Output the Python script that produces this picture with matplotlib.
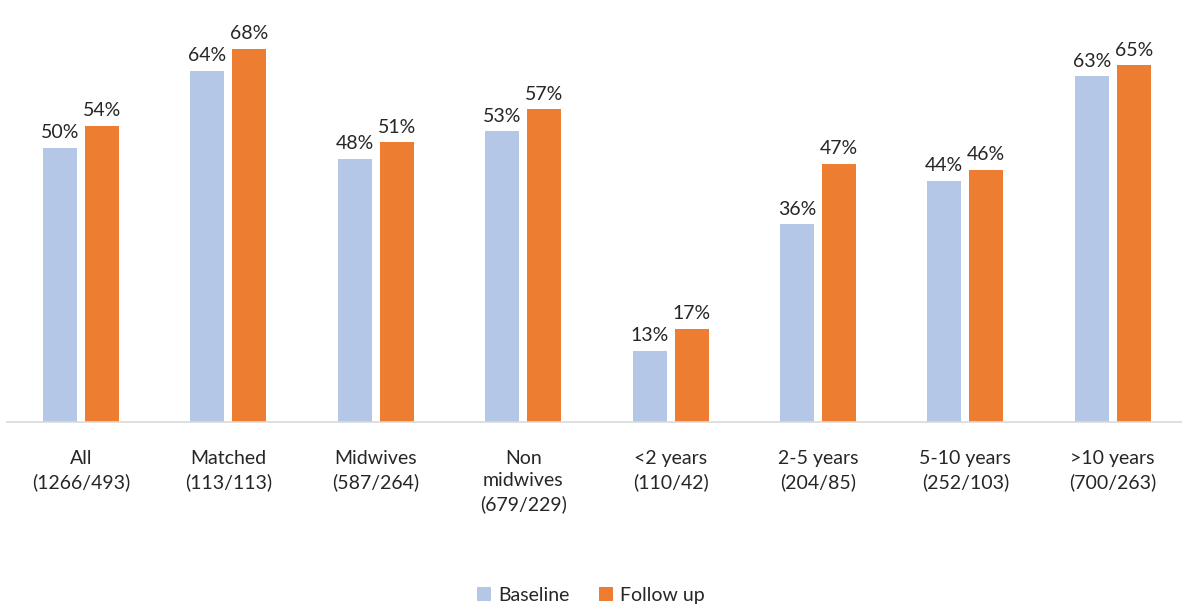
import matplotlib.pyplot as plt
import numpy as np

plt.rcParams["font.family"] = ["Lato", "DejaVu Sans"]

categories = ["All\n(1266/493)", "Matched\n(113/113)", "Midwives\n(587/264)",
              "Non\nmidwives\n(679/229)", "<2 years\n(110/42)", "2-5 years\n(204/85)",
              "5-10 years\n(252/103)", ">10 years\n(700/263)"]
baseline = [50, 64, 48, 53, 13, 36, 44, 63]
follow_up = [54, 68, 51, 57, 17, 47, 46, 65]

fig = plt.figure(figsize=(11.82, 6.09), dpi=100)
ax = fig.add_axes([0.0062, 0.307, 0.9975, 0.676])

x = np.arange(len(categories))
w = 0.231
off = 0.1425
b1 = ax.bar(x - off, baseline, w, color="#B4C7E7", label="Baseline")
b2 = ax.bar(x + off, follow_up, w, color="#ED7D31", label="Follow up")

for bars in (b1, b2):
    for r in bars:
        ax.text(r.get_x() + r.get_width() / 2, r.get_height() + 1.2,
                f"{r.get_height():.0f}%", ha="center", va="bottom",
                fontsize=14, color="#262626")

ax.set_xlim(-0.5, len(categories) - 0.5)
ax.set_ylim(0, 75)
ax.set_yticks([])
ax.set_xticks(x)
ax.set_xticklabels(categories, fontsize=14, color="#262626", linespacing=1.4)
ax.tick_params(axis="x", length=0, pad=20)
for s in ("top", "right", "left"):
    ax.spines[s].set_visible(False)
ax.spines["bottom"].set_color("#D9D9D9")
ax.spines["bottom"].set_linewidth(1.2)

fig.legend(handles=[b1, b2], loc="center", bbox_to_anchor=(0.5, 0.022), ncol=2,
           frameon=False, fontsize=14, handlelength=0.7, handleheight=0.7,
           handletextpad=0.4, columnspacing=1.5, labelcolor="#262626")

fig.savefig("out.png", dpi=100)
